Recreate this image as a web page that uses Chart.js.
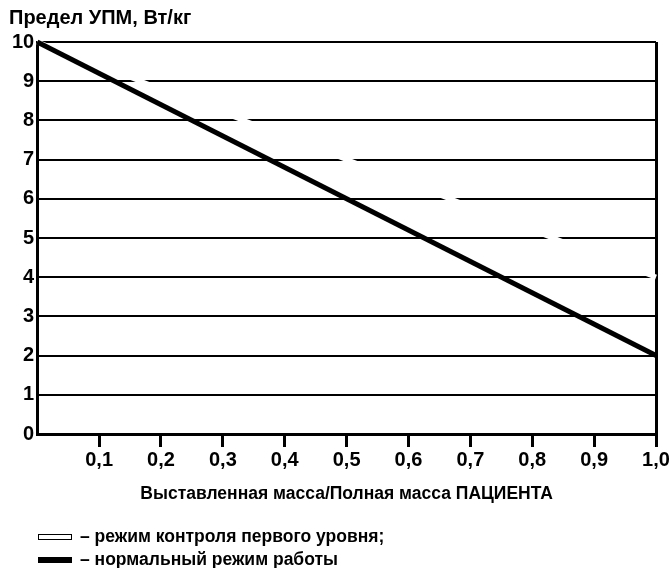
<!DOCTYPE html>
<html>
<head>
<meta charset="utf-8">
<script src="https://cdn.jsdelivr.net/npm/chart.js@4"></script>
<style>
  body { margin: 0; background: #fff; }
  #wrap { position: relative; width: 672px; height: 568px; }
  .legend-row { position: absolute; left: 38px; font: bold 17.5px "Liberation Sans", Arial, sans-serif; color: #000; display: flex; align-items: center; }
  .swatch { width: 34px; margin-right: 8px; box-sizing: border-box; }
  .sw-white { height: 6px; border: 1px solid #000; background: #fff; }
  .sw-black { height: 6px; background: #000; }
</style>
</head>
<body>
<div id="wrap">
  <canvas id="sarChart" width="672" height="568"></canvas>
  <div class="legend-row" style="top:526px"><div class="swatch sw-white"></div>– режим контроля первого уровня;</div>
  <div class="legend-row" style="top:549px"><div class="swatch sw-black"></div>– нормальный режим работы</div>
</div>
<script>
// exposed mass / total patient mass
var massRatio = [0, 1.0];
// SAR limit, W/kg
var normalMode = [10, 2];
var firstLevelMode = [10, 4];
var xTicks = [0, 0.1, 0.2, 0.3, 0.4, 0.5, 0.6, 0.7, 0.8, 0.9, 1.0];
var yTicks = [0, 1, 2, 3, 4, 5, 6, 7, 8, 9, 10];

function points(ys) {
  return massRatio.map(function (x, i) { return { x: x, y: ys[i] }; });
}

var font = 'Liberation Sans';

var ctx = document.getElementById('sarChart').getContext('2d');
var chart = new Chart(ctx, {
  type: 'line',
  data: {
    datasets: [{
      label: 'нормальный режим работы',
      data: points(normalMode),
      borderColor: '#000',
      borderWidth: 5,
      pointRadius: 0,
      clip: 6
    }, {
      label: 'режим контроля первого уровня',
      data: points(firstLevelMode),
      borderColor: '#fff',
      borderWidth: 5,
      pointRadius: 0,
      clip: 6
    }]
  },
  options: {
    responsive: false,
    animation: false,
    layout: { padding: { left: 9, right: 16, top: 6, bottom: 63 } },
    plugins: {
      legend: { display: false },
      tooltip: { enabled: false },
      title: {
        display: true,
        text: 'Предел УПМ, Вт/кг',
        align: 'start',
        color: '#000',
        font: { family: font, size: 20, weight: 'bold' },
        padding: { top: 0, bottom: 12 }
      }
    },
    scales: {
      x: {
        type: 'linear',
        min: 0,
        max: 1,
        afterBuildTicks: function (axis) {
          axis.ticks = xTicks.map(function (v) { return { value: v }; });
        },
        ticks: {
          color: '#000',
          font: { family: font, size: 20, weight: 'bold' },
          padding: 1,
          maxRotation: 0,
          callback: function (v) { return v === 0 ? '' : v.toFixed(1).replace('.', ','); }
        },
        grid: {
          drawOnChartArea: true,
          color: function (c) { return c.tick && c.tick.value === 1 ? '#000' : 'rgba(0,0,0,0)'; },
          tickColor: function (c) { return c.tick && c.tick.value === 0 ? 'rgba(0,0,0,0)' : '#000'; },
          lineWidth: 3,
          tickLength: 13,
          tickWidth: 3
        },
        border: { color: '#000', width: 3 },
        title: {
          display: true,
          text: 'Выставленная масса/Полная масса ПАЦИЕНТА',
          color: '#000',
          font: { family: font, size: 17.5, weight: 'bold' },
          padding: { top: 11, bottom: 0 }
        }
      },
      y: {
        min: 0,
        max: 10,
        afterBuildTicks: function (axis) {
          axis.ticks = yTicks.map(function (v) { return { value: v }; });
        },
        ticks: {
          color: '#000',
          font: { family: font, size: 20, weight: 'bold' },
          padding: 3
        },
        grid: {
          color: '#000',
          lineWidth: 2,
          drawTicks: false
        },
        border: { color: '#000', width: 3 }
      }
    }
  }
});
</script>
</body>
</html>
